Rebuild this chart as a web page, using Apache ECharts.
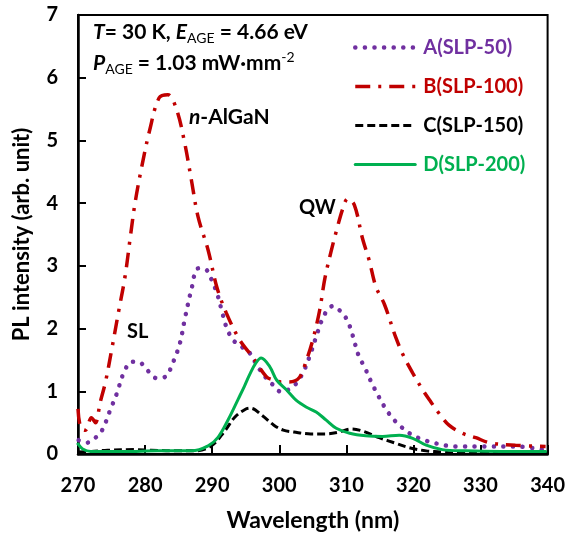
<!DOCTYPE html>
<html><head><meta charset="utf-8">
<script src="https://cdn.jsdelivr.net/npm/echarts@6/dist/echarts.min.js"></script>
<style>html,body{margin:0;padding:0;background:#fff}#c{width:568px;height:537px}</style>
</head><body><div id="c"></div>
<script>
// ---- data ----
const xTicks = [270, 280, 290, 300, 310, 320, 330, 340];
const yTicks = [0, 1, 2, 3, 4, 5, 6, 7];
const seriesNames = ['A(SLP-50)', 'B(SLP-100)', 'C(SLP-150)', 'D(SLP-200)'];

const wlA = [270.1,271.3,272.6,273.6,274.8,275.8,276.8,278.0,279.0,280.3,281.7,283.0,284.2,285.2,285.9,286.9,287.9,289.2,289.9,290.7,291.4,292.1,293.1,294.4,295.6,296.8,298.3,299.1,300.3,302.3,303.5,304.5,305.5,306.3,307.2,308.0,309.0,310.0,310.7,311.2,311.9,312.7,313.7,314.7,315.7,316.9,318.1,319.4,320.9,323.3,326.3,330.2,335.2,339.7];
const intA = [0.22,0.18,0.26,0.38,0.70,0.97,1.29,1.47,1.47,1.34,1.21,1.23,1.47,1.77,2.14,2.62,2.96,2.93,2.78,2.57,2.30,2.03,1.82,1.71,1.61,1.39,1.18,1.10,0.99,1.10,1.29,1.55,1.87,2.12,2.30,2.36,2.29,2.16,1.98,1.79,1.55,1.39,1.15,0.94,0.75,0.57,0.44,0.33,0.25,0.17,0.12,0.12,0.12,0.06];

const wlB = [270.0,270.4,271.1,272.0,272.6,273.3,274.1,275.1,276.1,277.0,277.8,278.5,279.5,280.7,282.1,283.4,284.7,285.9,286.9,287.9,289.4,290.7,292.1,294.1,296.0,298.1,299.1,300.3,301.5,303.0,304.0,305.0,306.0,306.8,307.7,308.5,309.5,310.2,311.2,312.4,313.4,314.4,315.7,317.4,318.6,319.9,321.4,322.6,323.8,325.3,327.3,329.3,331.3,335.2,339.7];
const intB = [0.72,0.42,0.38,0.58,0.50,0.82,1.15,1.71,2.30,2.82,3.46,4.00,4.58,5.17,5.68,5.73,5.49,4.96,4.37,3.78,3.25,2.66,2.25,1.82,1.55,1.23,1.18,1.15,1.15,1.22,1.48,1.82,2.28,2.80,3.22,3.55,3.92,4.07,3.97,3.44,3.09,2.67,2.38,1.85,1.55,1.29,1.02,0.83,0.65,0.46,0.33,0.26,0.18,0.14,0.12];

const wlC = [270.0,272.0,274.4,278.4,280.9,284.4,287.4,289.9,291.9,293.4,294.9,295.7,297.5,299.2,300.6,302.2,304.7,306.9,308.9,310.7,312.6,314.9,317.4,319.4,321.9,324.4,326.9,330,335,340];
const intC = [0.03,0.04,0.06,0.07,0.06,0.05,0.05,0.13,0.37,0.59,0.71,0.73,0.61,0.46,0.38,0.35,0.32,0.32,0.35,0.40,0.36,0.26,0.17,0.10,0.05,0.03,0.01,0.01,0.01,0.01];

const wlD = [270.0,270.7,271.9,276.9,281.9,286.9,289.4,290.9,292.4,293.9,294.8,295.6,296.5,297.3,298.6,299.6,301.1,302.5,304.0,305.5,307.0,308.5,310.5,312.9,315.4,317.9,319.9,321.9,324.3,327.8,333,339.7];
const intD = [0.16,0.08,0.04,0.04,0.05,0.05,0.13,0.27,0.55,0.88,1.08,1.27,1.45,1.53,1.39,1.18,1.02,0.86,0.75,0.67,0.54,0.41,0.33,0.29,0.28,0.30,0.25,0.14,0.07,0.05,0.04,0.04];

// ---- build ----
const F = 'Lato, "DejaVu Sans", sans-serif';
const colors = ['#7030A0', '#C00000', '#000000', '#00B050'];
const pairs = (xs, ys) => xs.map((x, i) => [x, ys[i]]);
const styles = [
  {width: 4.5, type: [0.1, 9.5], cap: 'round'},
  {width: 3.5, type: [15, 8, 3, 8], cap: 'butt'},
  {width: 3, type: [8, 4], cap: 'butt'},
  {width: 3, type: 'solid', cap: 'round'}
];
const datas = [pairs(wlA, intA), pairs(wlB, intB), pairs(wlC, intC), pairs(wlD, intD)];

const base = {fontFamily: F, fontWeight: 'bold', fontSize: 21, lineHeight: 26, verticalAlign: 'middle'};
const italic = Object.assign({}, base, {fontStyle: 'italic'});
const sub = {fontFamily: F, fontWeight: 'normal', fontSize: 14, lineHeight: 15, verticalAlign: 'bottom'};
const sup = {fontFamily: F, fontWeight: 'normal', fontSize: 14, lineHeight: 15, verticalAlign: 'top'};

const chart = echarts.init(document.getElementById('c'), null, {renderer: 'canvas'});
chart.setOption({
  animation: false,
  backgroundColor: '#fff',
  grid: {left: 78, right: 20, top: 15, bottom: 83, show: true, borderColor: '#000', borderWidth: 2},
  xAxis: {
    type: 'value', min: xTicks[0], max: xTicks[xTicks.length - 1], interval: 10,
    name: 'Wavelength (nm)', nameLocation: 'middle', nameGap: 55,
    nameTextStyle: {fontFamily: F, fontWeight: 'bold', fontSize: 23, color: '#000'},
    axisLine: {lineStyle: {color: '#000', width: 2.5}},
    axisTick: {inside: true, length: 9, lineStyle: {color: '#000', width: 2}},
    axisLabel: {margin: 22, fontFamily: F, fontWeight: 'bold', fontSize: 20, color: '#000'},
    splitLine: {show: false}
  },
  yAxis: {
    type: 'value', min: yTicks[0], max: yTicks[yTicks.length - 1], interval: 1,
    name: 'PL intensity (arb. unit)', nameLocation: 'middle', nameGap: 45,
    nameTextStyle: {fontFamily: F, fontWeight: 'bold', fontSize: 22, color: '#000'},
    axisLine: {lineStyle: {color: '#000', width: 2.5}},
    axisTick: {inside: true, length: 8, lineStyle: {color: '#000', width: 2}},
    axisLabel: {margin: 20, fontFamily: F, fontWeight: 'bold', fontSize: 20, color: '#000'},
    splitLine: {show: false}
  },
  legend: {
    orient: 'vertical', left: 348, top: 30, itemWidth: 60, itemHeight: 14, itemGap: 14,
    itemStyle: {opacity: 0},
    textStyle: {fontFamily: F, fontWeight: 'bold', fontSize: 20, lineHeight: 25, padding: [0, 0, 0, 3]},
    data: seriesNames.map((n, i) => ({
      name: n, textStyle: {color: colors[i]},
      lineStyle: {color: colors[i], width: styles[i].width, type: styles[i].type, cap: styles[i].cap}
    }))
  },
  series: seriesNames.map((n, i) => ({
    name: n, type: 'line', data: datas[i], smooth: 0.35, symbol: 'none',
    color: colors[i], lineStyle: Object.assign({color: colors[i]}, styles[i]),
    z: [3, 4, 2, 5][i]
  })),
  graphic: [
    {type: 'text', left: 93, top: 22, style: {
      text: '{it|T}{b|= 30 K, }{it|E}{sub|AGE}{b| = 4.66 eV}',
      rich: {it: italic, b: base, sub: sub}}},
    {type: 'text', left: 93, top: 50, style: {
      text: '{it|P}{sub|AGE}{b| = 1.03 mW·mm}{sup|-2}',
      rich: {it: italic, b: base, sub: sub, sup: sup}}},
    {type: 'text', left: 189, top: 107, style: {
      text: '{it|n}{b|-AlGaN}',
      rich: {it: italic, b: base}}},
    {type: 'text', left: 127, top: 322, style: {text: 'SL', fontFamily: F, fontWeight: 'bold', fontSize: 20, fill: '#000'}},
    {type: 'text', left: 299, top: 198, style: {text: 'QW', fontFamily: F, fontWeight: 'bold', fontSize: 20, fill: '#000'}}
  ]
});
</script></body></html>
